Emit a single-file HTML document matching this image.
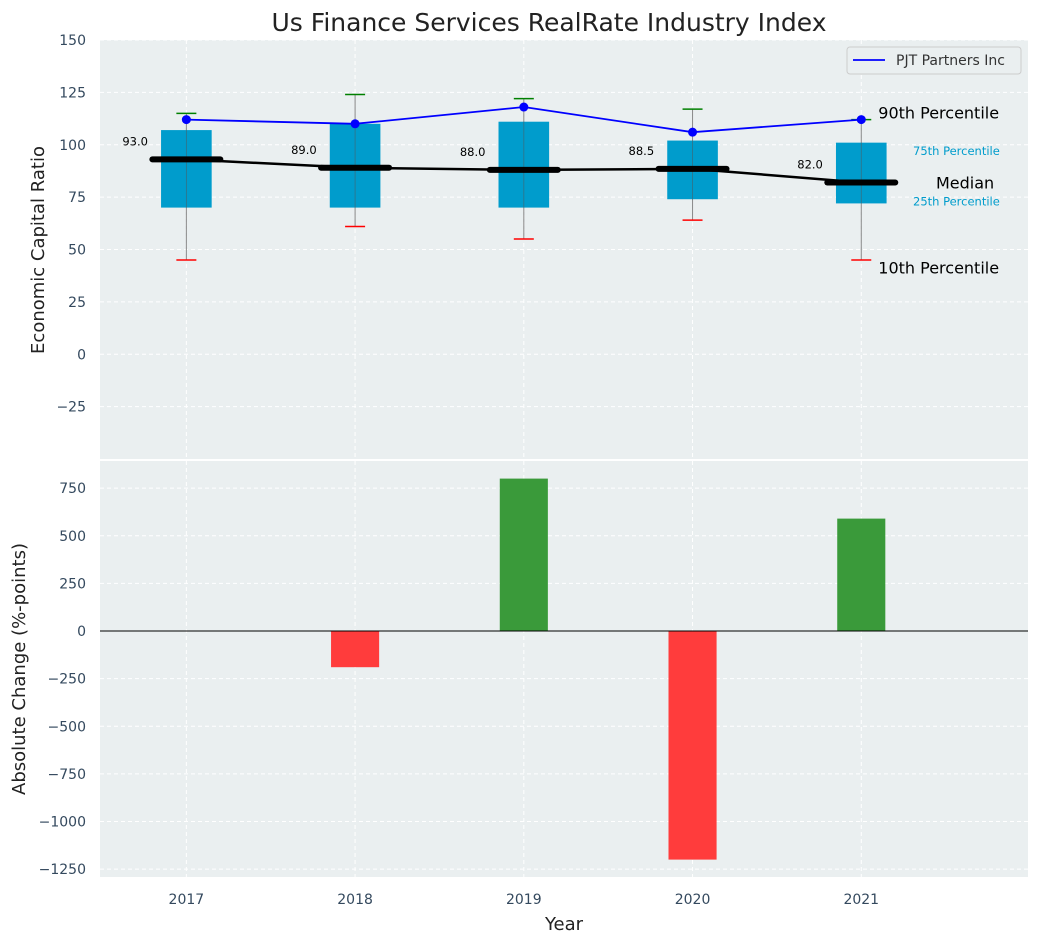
<!DOCTYPE html>
<html><head><meta charset="utf-8"><style>
body{margin:0;background:#fff;font-family:"Liberation Sans","DejaVu Sans",sans-serif}
svg text{font-family:"DejaVu Sans","Liberation Sans",sans-serif}
</style></head><body>
<svg id="c" width="1039" height="942" xmlns="http://www.w3.org/2000/svg"></svg>
<script>
const years=[2017,2018,2019,2020,2021];
const q1=[70,70,70,74,72];
const q3=[107,110,111,102,101];
const medians=[93,89,88,88.5,82];
const p10=[45,61,55,64,45];
const p90=[115,124,122,117,112];
const pjt=[112,110,118,106,112];
const changes=[0,-190,800,-1200,590];
const topTicks=[-25,0,25,50,75,100,125,150];
const botTicks=[-1250,-1000,-750,-500,-250,0,250,500,750];
const NS="http://www.w3.org/2000/svg";
const svg=document.getElementById('c');
function el(t,a,txt){const e=document.createElementNS(NS,t);for(const k in a)e.setAttribute(k,a[k]);if(txt!==undefined)e.textContent=txt;svg.appendChild(e);return e;}
const X0=100,X1=1028;
const x=v=>X0+2+(v-2016.5)/(2022-2016.5)*(X1-X0);
const yT=v=>40+(150-v)*(419/200);
const yB=v=>631-v*0.1905;
const TC='#34495e';
let r=el('rect',{x:X0,y:40,width:X1-X0,height:419,fill:'#eaeff0'});

r=el('rect',{x:X0,y:461,width:X1-X0,height:416,fill:'#eaeff0'});

years.forEach(v=>{el('line',{x1:x(v),x2:x(v),y1:40,y2:459,stroke:'#fff','stroke-dasharray':'4,3'});el('line',{x1:x(v),x2:x(v),y1:461,y2:877,stroke:'#fff','stroke-dasharray':'4,3'});
 const t=el('text',{x:x(v),y:904,'font-size':14,fill:TC,'text-anchor':'middle'},v);});
topTicks.forEach(v=>{el('line',{x1:X0,x2:X1,y1:yT(v),y2:yT(v),stroke:'#fff','stroke-dasharray':'4,3'});
 const t=el('text',{x:86,y:yT(v)+5,'font-size':14,fill:TC,'text-anchor':'end'},v<0?'\u2212'+(-v):v);});
botTicks.forEach(v=>{el('line',{x1:X0,x2:X1,y1:yB(v),y2:yB(v),stroke:'#fff','stroke-dasharray':'4,3'});
 const t=el('text',{x:86,y:yB(v)+5,'font-size':14,fill:TC,'text-anchor':'end'},v<0?'\u2212'+(-v):v);});
const bw=x(2017.15)-x(2017);
years.forEach((v,i)=>{
 const cx=x(v);
 let w=el('line',{x1:cx,x2:cx,y1:yT(p90[i]),y2:yT(p10[i]),stroke:'#888','stroke-width':1});
 
 let b=el('rect',{x:cx-bw,y:yT(q3[i]),width:2*bw,height:yT(q1[i])-yT(q3[i]),fill:'#009ccc'});
 
 el('line',{x1:cx,x2:cx,y1:yT(q3[i]),y2:yT(q1[i]),stroke:'#555','stroke-width':0.8,opacity:0.6});
 el('line',{x1:cx-10,x2:cx+10,y1:yT(p90[i]),y2:yT(p90[i]),stroke:'green','stroke-width':1.5});
 el('line',{x1:cx-10,x2:cx+10,y1:yT(p10[i]),y2:yT(p10[i]),stroke:'red','stroke-width':1.5});
 let m=el('line',{x1:cx-34,x2:cx+34,y1:yT(medians[i]),y2:yT(medians[i]),stroke:'#000','stroke-width':6,'stroke-linecap':'round'});
 
 const t=el('text',{x:cx-64,y:yT(medians[i])-14,'font-size':11.5,fill:'#000'},medians[i].toFixed(1));
 
});
let ml=el('polyline',{points:years.map((v,i)=>x(v)+','+yT(medians[i])).join(' '),fill:'none',stroke:'#000','stroke-width':2.5});

let pl=el('polyline',{points:years.map((v,i)=>x(v)+','+yT(pjt[i])).join(' '),fill:'none',stroke:'blue','stroke-width':1.8});

years.forEach((v,i)=>{const c=el('circle',{cx:x(v),cy:yT(pjt[i]),r:4.5,fill:'blue'});});
const ax=x(2021);
[['90th Percentile',ax+17,yT(115)+5,16,'#000'],['75th Percentile',913,yT(97)+4,11.5,'#009ccc'],['Median',936,yT(82)+6,16,'#000'],['25th Percentile',913,yT(73)+4,11.5,'#009ccc'],['10th Percentile',ax+17,yT(41)+5,16,'#000']].forEach(a=>{
 const t=el('text',{x:a[1],y:a[2],'font-size':a[3],fill:a[4]},a[0]);});
let lg=el('rect',{x:847,y:47,width:174,height:27,fill:'#eaeff0',stroke:'#ccc',rx:3});

el('line',{x1:853,x2:885,y1:60,y2:60,stroke:'blue','stroke-width':1.8});
let lt=el('text',{x:896,y:65,'font-size':14,fill:'#333'},'PJT Partners Inc');
years.forEach((v,i)=>{const c=changes[i];if(c===0)return;
 const b=el('rect',{x:x(v)-bw*0.95,y:Math.min(yB(c),yB(0)),width:bw*1.9,height:Math.abs(yB(c)-yB(0)),fill:c>0?'#3a9a3a':'#ff3c3c'});
 });
el('line',{x1:X0,x2:X1,y1:yB(0),y2:yB(0),stroke:'#000','stroke-width':1});
let tt=el('text',{x:549,y:31,'font-size':25,fill:'#222','text-anchor':'middle'},'Us Finance Services RealRate Industry Index');
let xt=el('text',{x:564,y:930,'font-size':18,fill:'#222','text-anchor':'middle'},'Year');
let y1=el('text',{x:0,y:0,'font-size':18,fill:'#222','text-anchor':'middle',transform:'translate(44,250) rotate(-90)'},'Economic Capital Ratio');
let y2=el('text',{x:0,y:0,'font-size':18,fill:'#222','text-anchor':'middle',transform:'translate(25,669) rotate(-90)'},'Absolute Change (%-points)');
</script>
</body></html>
